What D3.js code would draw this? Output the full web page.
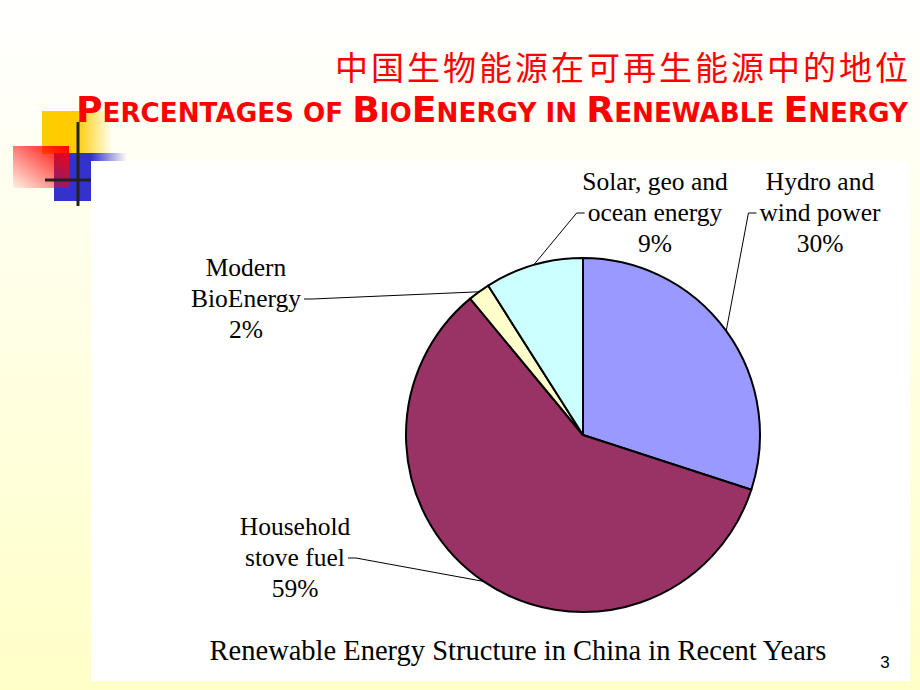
<!DOCTYPE html>
<html>
<head>
<meta charset="utf-8">
<script src="https://cdn.jsdelivr.net/npm/d3@7"></script>
<style>
  html, body { margin: 0; padding: 0; background: #fff; }
  svg { display: block; }
</style>
</head>
<body>
<svg id="slide" width="920" height="690"></svg>
<script>
	// Data
	var categories = ['Hydro and wind power', 'Household stove fuel', 'Modern BioEnergy', 'Solar, geo and ocean energy'];
	var values = [30, 59, 2, 9];
	var colors = ['#9999ff', '#993366', '#ffffcc', '#ccffff'];
	// label lines and where they sit (text center, first baseline, leader side)
	var labelLines = [
		['Hydro and', 'wind power', '30%'],
		['Household', 'stove fuel', '59%'],
		['Modern', 'BioEnergy', '2%'],
		['Solar, geo and', 'ocean energy', '9%']
	];
	var labelPos = [
		{x: 820, y: 190, side: 'left'},
		{x: 295, y: 535, side: 'right'},
		{x: 246, y: 276, side: 'right'},
		{x: 655, y: 190, side: 'left'}
	];
	var chartTitle = 'Renewable Energy Structure in China in Recent Years';

	var svg = d3.select('#slide');
	var defs = svg.append('defs');

	// Slide background gradient (white -> pale yellow)
	var bg = defs.append('linearGradient').attr('id', 'bg').attr('x1', 0).attr('y1', 0).attr('x2', 0).attr('y2', 1);
	bg.append('stop').attr('offset', '0%').attr('stop-color', '#ffffff');
	bg.append('stop').attr('offset', '100%').attr('stop-color', '#ffffc8');
	svg.append('rect').attr('width', 920).attr('height', 690).attr('fill', 'url(#bg)');

	// Decorative squares top-left
	var yel = defs.append('linearGradient').attr('id', 'yel');
	yel.append('stop').attr('offset', '0%').attr('stop-color', '#ffcc00');
	yel.append('stop').attr('offset', '50%').attr('stop-color', '#ffcc00');
	yel.append('stop').attr('offset', '100%').attr('stop-color', '#ffcc00').attr('stop-opacity', 0);
	var blu = defs.append('linearGradient').attr('id', 'blu');
	blu.append('stop').attr('offset', '0%').attr('stop-color', '#3333cc');
	blu.append('stop').attr('offset', '100%').attr('stop-color', '#3333cc').attr('stop-opacity', 0);
	var red = defs.append('linearGradient').attr('id', 'red').attr('x1', 1).attr('y1', 0).attr('x2', 0).attr('y2', 1);
	red.append('stop').attr('offset', '0%').attr('stop-color', '#ff0000');
	red.append('stop').attr('offset', '100%').attr('stop-color', '#ff0000').attr('stop-opacity', 0.05);

	var deco = svg.append('g');
	deco.append('rect').attr('x', 42).attr('y', 111).attr('width', 70).attr('height', 43).attr('fill', 'url(#yel)');
	deco.append('rect').attr('x', 54).attr('y', 153).attr('width', 37).attr('height', 48).attr('fill', '#3333cc');
	deco.append('rect').attr('x', 91).attr('y', 153).attr('width', 36).attr('height', 8).attr('fill', 'url(#blu)');
	deco.append('rect').attr('x', 13).attr('y', 146).attr('width', 56).attr('height', 42).attr('fill', 'url(#red)');
	deco.append('line').attr('x1', 78).attr('x2', 78).attr('y1', 122).attr('y2', 206).attr('stroke', '#222').attr('stroke-width', 3);
	deco.append('line').attr('x1', 45).attr('x2', 91).attr('y1', 180).attr('y2', 180).attr('stroke', '#222').attr('stroke-width', 3);

	// Titles
	svg.append('text')
		.attr('x', 908).attr('y', 80)
		.attr('text-anchor', 'end')
		.attr('font-family', '"Noto Sans CJK SC", sans-serif')
		.attr('font-size', 33)
		.attr('fill', '#ff0000')
		.attr('textLength', 573).attr('lengthAdjust', 'spacing')
		.text('中国生物能源在可再生能源中的地位');

	var sub = svg.append('text')
		.attr('x', 76).attr('y', 122)
		.attr('font-family', '"DejaVu Sans", Verdana, sans-serif')
		.attr('font-weight', 'bold')
		.attr('fill', '#ff0000')
		.attr('textLength', 832).attr('lengthAdjust', 'spacingAndGlyphs');
	var subParts = [['P', 36], ['ERCENTAGES OF ', 26], ['B', 36], ['IO', 26], ['E', 36], ['NERGY IN ', 26],
		['R', 36], ['ENEWABLE ', 26], ['E', 36], ['NERGY', 26]];
	subParts.forEach(function(p) {
		sub.append('tspan').attr('font-size', p[1]).text(p[0]);
	});

	// White chart area
	svg.append('rect').attr('x', 91).attr('y', 161).attr('width', 819).attr('height', 520).attr('fill', '#ffffff');

	// Pie
	var cx = 583, cy = 435, r = 177;
	var pie = d3.pie().sort(null).value(function(d) { return d; });
	var arcs = pie(values);
	var arc = d3.arc().innerRadius(0).outerRadius(r);
	var edge = d3.arc().innerRadius(r).outerRadius(r);

	var g = svg.append('g').attr('transform', 'translate(' + cx + ',' + cy + ')');
	g.selectAll('.slice')
		.data(arcs)
		.enter().append('path')
			.attr('class', 'slice')
			.attr('d', arc)
			.attr('fill', function(d, i) { return colors[i]; })
			.attr('stroke', '#000')
			.attr('stroke-width', 2)
			.attr('stroke-linejoin', 'round');

	// Labels + leader lines
	var font = '"Liberation Serif", "Times New Roman", serif';
	arcs.forEach(function(d, i) {
		var lp = labelPos[i];
		var t = svg.append('text')
			.attr('font-family', font)
			.attr('font-size', 25.5)
			.attr('fill', '#000')
			.attr('text-anchor', 'middle');
		labelLines[i].forEach(function(line, j) {
			t.append('tspan').attr('x', lp.x).attr('y', lp.y + j * 31).text(line);
		});
		// leader starts next to the middle line
		var mid = t.selectAll('tspan').nodes()[1];
		var w = mid.getComputedTextLength();
		var ly = lp.y + 31 - 8;
		var lx = lp.side == 'left' ? lp.x - w / 2 - 3 : lp.x + w / 2 + 3;
		var stub = lp.side == 'left' ? lx - 8 : lx + 8;
		var c = edge.centroid(d);
		svg.append('polyline')
			.attr('points', lx + ',' + ly + ' ' + stub + ',' + ly + ' ' + (cx + c[0]) + ',' + (cy + c[1]))
			.attr('fill', 'none')
			.attr('stroke', '#000')
			.attr('stroke-width', 1);
	});

	// Chart caption
	svg.append('text')
		.attr('x', 518).attr('y', 660)
		.attr('text-anchor', 'middle')
		.attr('font-family', font)
		.attr('font-size', 28.5)
		.attr('fill', '#000')
		.text(chartTitle);

	// Slide number
	svg.append('text')
		.attr('x', 885).attr('y', 668)
		.attr('text-anchor', 'middle')
		.attr('font-family', '"Liberation Sans", Arial, sans-serif')
		.attr('font-size', 17)
		.attr('fill', '#000')
		.text('3');
</script>
</body>
</html>
